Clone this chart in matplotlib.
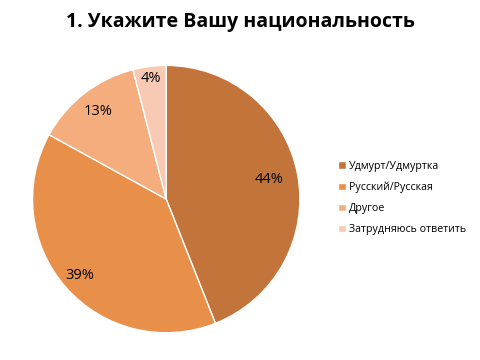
import numpy as np
import matplotlib
matplotlib.use("Agg")
import matplotlib.pyplot as plt

plt.rcParams['font.family'] = ['Open Sans', 'DejaVu Sans']

title = '1. Укажите Вашу национальность'
labels = ['Удмурт/Удмуртка', 'Русский/Русская', 'Другое', 'Затрудняюсь ответить']
values = [44, 39, 13, 4]
colors = ['#C3743A', '#E88F4A', '#F5AD7E', '#F9CAB3']
label_dist = [0.78, 0.86, 0.83, 0.91]

fig = plt.figure(figsize=(4.8, 3.6), dpi=100)
fig.text(0.5, 0.94, title, ha='center', va='center', fontsize=14, fontweight='bold')

ax = fig.add_axes([0.065, 0.072, 0.5625, 0.75])
wedges, _ = ax.pie(values, colors=colors, startangle=90, counterclock=False,
                   wedgeprops=dict(edgecolor='white', linewidth=1))
ax.set_xlim(-1.01, 1.01)
ax.set_ylim(-1.01, 1.01)
ax.set_aspect('equal')

total = sum(values)
for w, v, d in zip(wedges, values, label_dist):
    ang = np.deg2rad((w.theta1 + w.theta2) / 2)
    ax.text(d * np.cos(ang), d * np.sin(ang), f'{round(100 * v / total)}%',
            ha='center', va='center', fontsize=10.5)

fig.legend(wedges, labels, loc='center left', bbox_to_anchor=(0.685, 0.45),
           frameon=False, fontsize=7.7, handlelength=0.7, handleheight=0.7,
           handletextpad=0.3, labelspacing=0.95)

fig.savefig('out.png', dpi=100)
